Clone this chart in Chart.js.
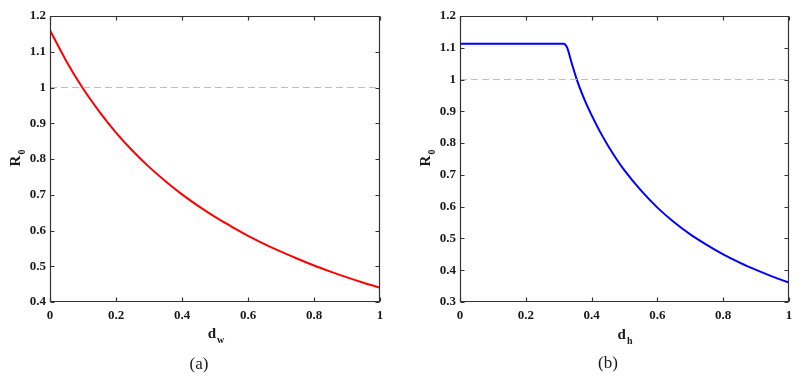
<!DOCTYPE html>
<html>
<head>
<meta charset="utf-8">
<script src="https://cdn.jsdelivr.net/npm/chart.js@4/dist/chart.umd.min.js"></script>
<style>
  html, body { margin:0; padding:0; background:#fff; }
  body { width:811px; height:377px; position:relative; overflow:hidden; font-family:'Liberation Serif','Times New Roman',serif; }
  .wrap { position:absolute; top:0; height:340px; }
  .lbl { position:absolute; font-family:'Liberation Serif','Times New Roman',serif; color:#1a1a1a; white-space:nowrap; line-height:1; }
  .ax { font-weight:bold; font-size:15px; }
  .ax sub { font-size:10px; vertical-align:baseline; position:relative; top:5px; margin-left:1px; }
  .rot { transform:translate(-50%,-50%) rotate(-90deg); }
  .cx { transform:translate(-50%,-50%); }
  .cap { font-size:17px; }
</style>
</head>
<body>
<div class="wrap" style="left:0;width:400px;"><canvas id="cA" width="400" height="340"></canvas></div>
<div class="wrap" style="left:410px;width:401px;"><canvas id="cB" width="401" height="340"></canvas></div>

<div class="lbl ax rot" style="left:15px;top:158px;">R<sub>0</sub></div>
<div class="lbl ax cx" style="left:216px;top:333px;">d<sub>w</sub></div>
<div class="lbl cap cx" style="left:199px;top:363px;">(a)</div>

<div class="lbl ax rot" style="left:425px;top:158px;">R<sub>0</sub></div>
<div class="lbl ax cx" style="left:625px;top:334px;">d<sub>h</sub></div>
<div class="lbl cap cx" style="left:608px;top:362px;">(b)</div>

<script>
// ---- data: panel (a) ----
const dwValues = [0, 0.05, 0.1, 0.15, 0.2, 0.25, 0.3, 0.35, 0.4, 0.45, 0.5, 0.55, 0.6, 0.65, 0.7, 0.75, 0.8, 0.85, 0.9, 0.95, 1.0];
const r0A      = [1.160, 1.073, 0.997, 0.932, 0.874, 0.823, 0.778, 0.738, 0.701, 0.668, 0.638, 0.611, 0.585, 0.562, 0.541, 0.521, 0.502, 0.485, 0.469, 0.454, 0.440];

// ---- data: panel (b) ----
const dhValues = [0, 0.1, 0.2, 0.3, 0.315, 0.325, 0.34, 0.355, 0.37, 0.385, 0.4, 0.425, 0.45, 0.475, 0.5, 0.55, 0.6, 0.65, 0.7, 0.75, 0.8, 0.85, 0.9, 0.95, 1.0];
const r0B      = [1.113, 1.113, 1.113, 1.113, 1.113, 1.102, 1.050, 1.000, 0.958, 0.921, 0.888, 0.837, 0.792, 0.751, 0.714, 0.651, 0.597, 0.552, 0.513, 0.480, 0.450, 0.424, 0.401, 0.380, 0.361];

// ---- threshold R0 = 1 ----
const thresholdX = [0, 1];
const thresholdY = [1, 1];

// ---- ticks ----
const xTicks      = [0, 0.2, 0.4, 0.6, 0.8, 1];
const xTickLabels = ['0', '0.2', '0.4', '0.6', '0.8', '1'];
const yTicksA      = [0.4, 0.5, 0.6, 0.7, 0.8, 0.9, 1, 1.1, 1.2];
const yTickLabelsA = ['0.4', '0.5', '0.6', '0.7', '0.8', '0.9', '1', '1.1', '1.2'];
const yTicksB      = [0.3, 0.4, 0.5, 0.6, 0.7, 0.8, 0.9, 1, 1.1, 1.2];
const yTickLabelsB = ['0.3', '0.4', '0.5', '0.6', '0.7', '0.8', '0.9', '1', '1.1', '1.2'];

function pts(xs, ys) { return xs.map((x, i) => ({ x: x, y: ys[i] })); }

const frameTicks = {
  id: 'frameTicks',
  afterDatasetsDraw(chart) {
    const ctx = chart.ctx;
    const a = chart.chartArea;
    const xs = chart.scales.x, ys = chart.scales.y;
    const L = Math.round(a.left) + 0.5, R = Math.round(a.right) - 0.5;
    const T = Math.round(a.top) + 0.5, B = Math.round(a.bottom) - 0.5;
    ctx.save();
    ctx.strokeStyle = '#333333';
    ctx.lineWidth = 1.2;
    ctx.beginPath();
    ctx.rect(L, T, R - L, B - T);
    ctx.stroke();
    const tl = 4;
    ctx.beginPath();
    xs.ticks.forEach(t => {
      const px = Math.round(xs.getPixelForValue(t.value)) + 0.5;
      ctx.moveTo(px, B); ctx.lineTo(px, B - tl);
      ctx.moveTo(px, T); ctx.lineTo(px, T + tl);
    });
    ys.ticks.forEach(t => {
      const py = Math.round(ys.getPixelForValue(t.value)) + 0.5;
      ctx.moveTo(L, py); ctx.lineTo(L + tl, py);
      ctx.moveTo(R, py); ctx.lineTo(R - tl, py);
    });
    ctx.stroke();
    ctx.restore();
  }
};

const tickFont = { family: "'Liberation Serif','Times New Roman',serif", size: 13, weight: 'bold' };

function makeChart(id, xsData, ysData, color, yMin, yMax, yTicks, yLabels, padRight) {
  return new Chart(document.getElementById(id), {
    type: 'line',
    data: {
      datasets: [
        { data: pts(thresholdX, thresholdY), borderColor: '#bdbdbd', borderWidth: 1, borderDash: [7, 4], pointRadius: 0, tension: 0 },
        { data: pts(xsData, ysData), borderColor: color, borderWidth: 2, pointRadius: 0, cubicInterpolationMode: 'monotone' }
      ]
    },
    options: {
      responsive: false,
      animation: false,
      events: [],
      layout: { padding: { left: 0, right: padRight, top: 16, bottom: 0 } },
      plugins: { legend: { display: false }, tooltip: { enabled: false } },
      scales: {
        x: {
          type: 'linear', min: 0, max: 1,
          afterBuildTicks: s => { s.ticks = xTicks.map(v => ({ value: v })); },
          afterFit: s => { s.height = 38; },
          grid: { display: false, drawTicks: false },
          border: { display: false },
          ticks: { font: tickFont, color: '#1a1a1a', padding: 6, maxRotation: 0,
                   callback: (v, i) => xTickLabels[i] }
        },
        y: {
          type: 'linear', min: yMin, max: yMax,
          afterBuildTicks: s => { s.ticks = yTicks.map(v => ({ value: v })); },
          afterFit: s => { s.width = 50; },
          grid: { display: false, drawTicks: false },
          border: { display: false },
          ticks: { font: tickFont, color: '#1a1a1a', padding: 4,
                   callback: (v, i) => yLabels[i] }
        }
      }
    },
    plugins: [frameTicks]
  });
}

makeChart('cA', dwValues, r0A, '#ff0000', 0.4, 1.2, yTicksA, yTickLabelsA, 20);
makeChart('cB', dhValues, r0B, '#0000ff', 0.3, 1.2, yTicksB, yTickLabelsB, 22);
</script>
</body>
</html>
